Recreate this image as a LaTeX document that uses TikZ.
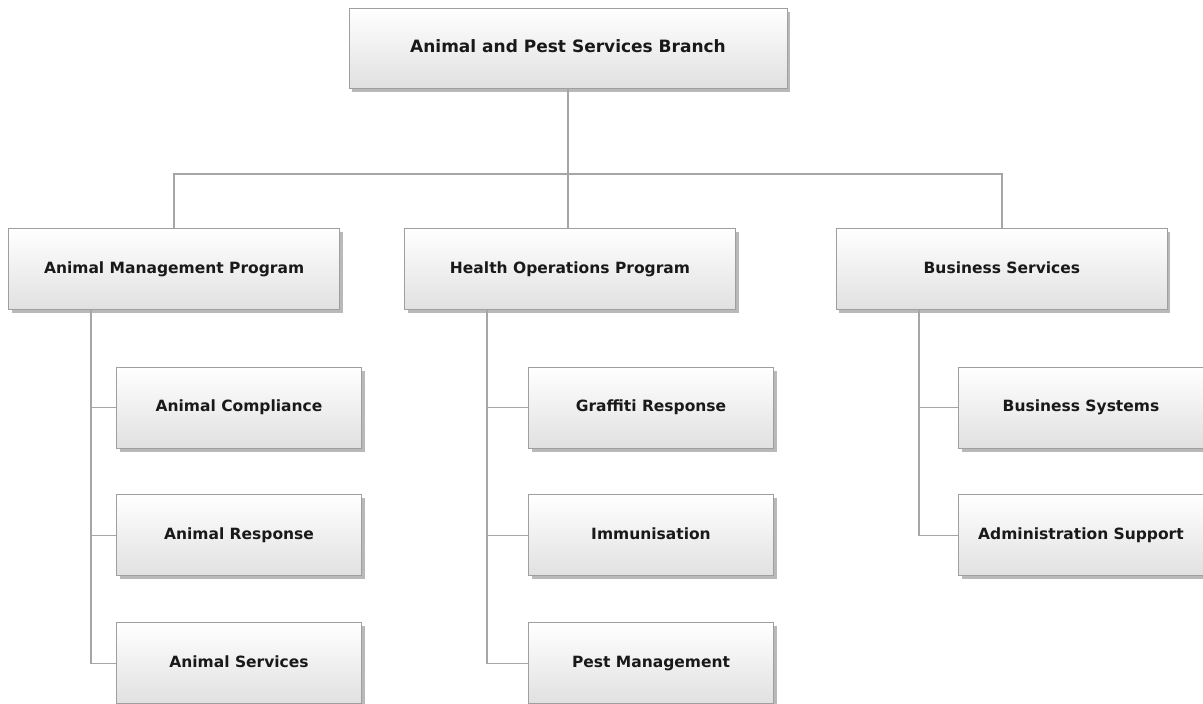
\documentclass[tikz,border=0pt]{standalone}
\usepackage{fontspec}
\newfontfamily\orgfont{DejaVu Sans}
\usetikzlibrary{positioning, shadows, calc}

\begin{document}
\begin{tikzpicture}[x=1pt, y=1pt]
    % Styles
    \tikzstyle{unit} = [rectangle, draw=gray!75, line width=0.9pt,
    top color=white, bottom color=gray!24, text=black!90,
    drop shadow={shadow xshift=3pt, shadow yshift=-3.5pt, fill=gray, opacity=0.55},
    font=\orgfont\bfseries\fontsize{15.5}{18}\selectfont,
    text height=11.5pt, text depth=3.5pt,
    minimum height=81pt, inner sep=0pt]
    \tikzstyle{program} = [unit, minimum width=331pt]
    \tikzstyle{section} = [unit, minimum width=245pt]
    \tikzstyle{link} = [draw=gray!70, line width=1.3pt]

    \useasboundingbox (0,0) rectangle (1203,-704);

    % Nodes
    \node (branch) [unit, minimum width=438pt, minimum height=80pt,
    font=\orgfont\bfseries\fontsize{17}{20}\selectfont,
    text height=12.5pt, text depth=4pt] at (568,-48)
    {Animal and Pest Services Branch};
    \node (health) [program, below=140pt of branch, xshift=2pt]
    {Health Operations Program};
    \node (animal) [program, left=64pt of health] {Animal Management Program};
    \node (business) [program, right=100pt of health] {Business Services};

    \node (compliance) [section] at (239,-407.5) {Animal Compliance};
    \node (response) [section, below=46pt of compliance] {Animal Response};
    \node (services) [section, below=46pt of response] {Animal Services};

    \node (graffiti) [section] at (651,-407.5) {Graffiti Response};
    \node (immunisation) [section, below=46pt of graffiti] {Immunisation};
    \node (pest) [section, below=46pt of immunisation] {Pest Management};

    \node (systems) [section] at (1081,-407.5) {Business Systems};
    \node (admin) [section, below=46pt of systems] {Administration Support};

    % Lines
    \coordinate (bar) at (0,-174);
    \draw[link] (branch.south) -- (branch.south |- health.north);
    \draw[link] (animal.north) |- (bar -| business.north) -- (business.north);

    \coordinate (atrunk) at ($(animal.south west)!0.25!(animal.south east)$);
    \coordinate (htrunk) at ($(health.south west)!0.25!(health.south east)$);
    \coordinate (btrunk) at ($(business.south west)!0.25!(business.south east)$);

    \draw[link] (atrunk) |- (compliance.west);
    \draw[link] (atrunk) |- (response.west);
    \draw[link] (atrunk) |- (services.west);
    \draw[link] (htrunk) |- (graffiti.west);
    \draw[link] (htrunk) |- (immunisation.west);
    \draw[link] (htrunk) |- (pest.west);
    \draw[link] (btrunk) |- (systems.west);
    \draw[link] (btrunk) |- (admin.west);
\end{tikzpicture}
\end{document}
